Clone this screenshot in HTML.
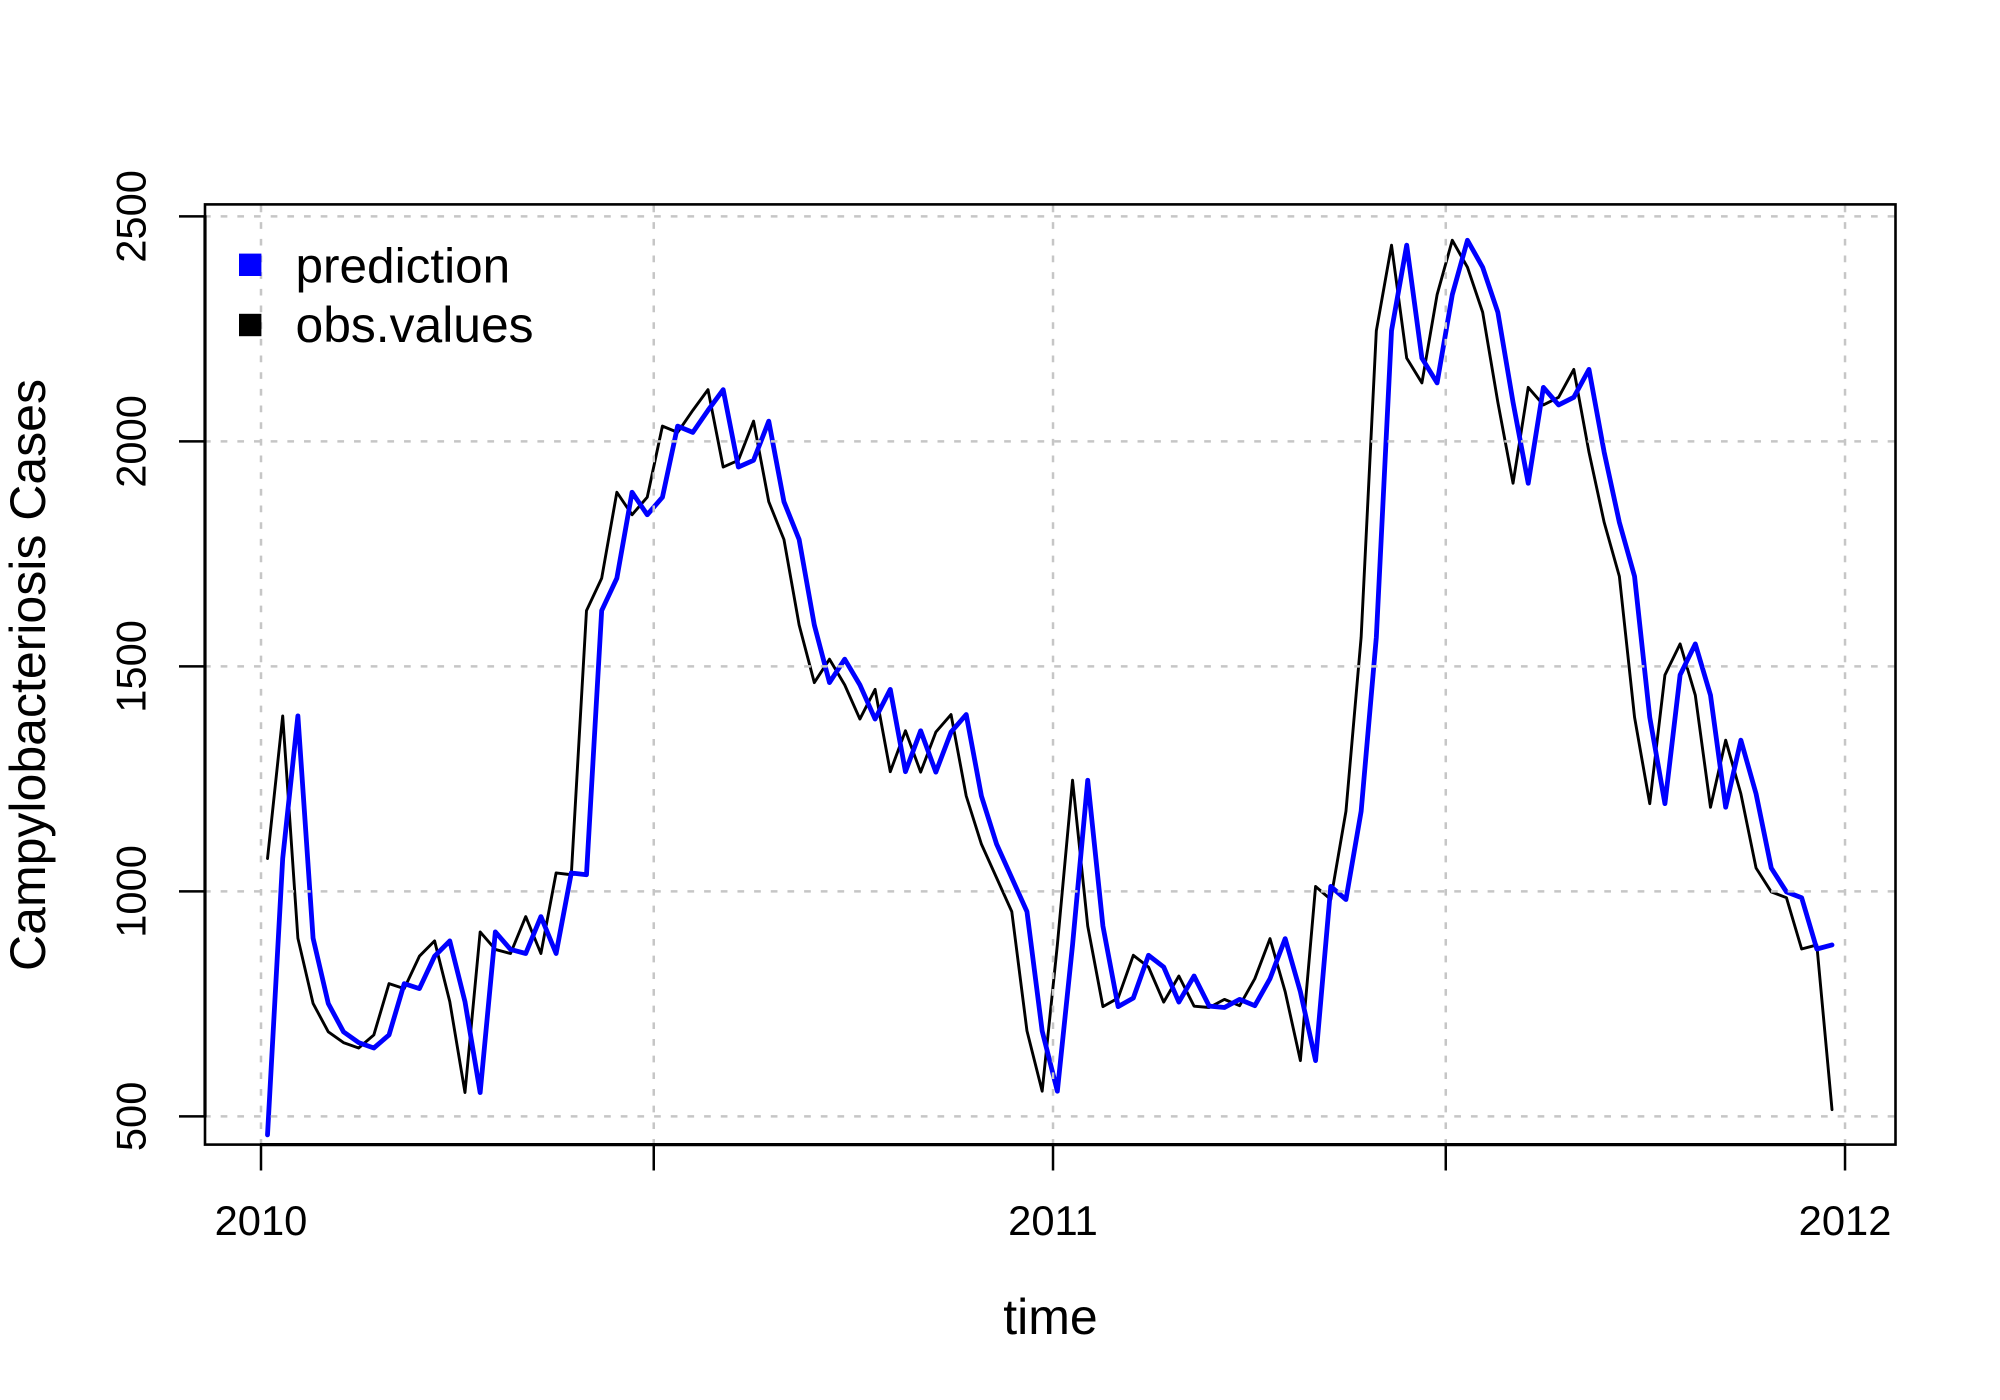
<!DOCTYPE html>
<html lang="en">
<head>
<meta charset="utf-8">
<title>Campylobacteriosis Cases: prediction vs observed values</title>
<style>
html,body{margin:0;padding:0;background:#fff;}
svg{display:block;font-family:"Liberation Sans",Arial,Helvetica,sans-serif;}
</style>
</head>
<body>
<svg id="chart" xmlns="http://www.w3.org/2000/svg" width="2000" height="1400" viewBox="0 0 2000 1400">
  <rect x="0" y="0" width="2000" height="1400" fill="#ffffff"/>
  <g id="series-layer"></g>
  <g id="grid-layer"></g>
  <rect x="205" y="204.4" width="1690.5" height="940.2" fill="none" stroke="#000" stroke-width="2.6"/>
  <g id="axis-layer"></g>
  <text x="1050.5" y="1334" font-size="50" text-anchor="middle" fill="#000">time</text>
  <text x="45" y="675" font-size="50" text-anchor="middle" fill="#000" transform="rotate(-90 45 675)">Campylobacteriosis Cases</text>
  <g>
    <rect x="239" y="253.6" width="22.4" height="22.4" fill="#0000ff"/>
    <text x="295.5" y="282.5" font-size="49.5" fill="#000">prediction</text>
    <rect x="239" y="313.8" width="22.4" height="22.4" fill="#000000"/>
    <text x="295.5" y="342" font-size="49.8" fill="#000">obs.values</text>
  </g>
</svg>
<script>
var obsValues = [1073,1390,896,751,688,664,652,681,795,784,856,890,755,553,910,871,862,944,862,1041,
1037,1624,1696,1887,1837,1876,2034,2020,2069,2115,1943,1958,2045,1866,1782,1592,1464,1516,1459,1383,
1449,1266,1357,1265,1354,1393,1212,1105,1030,955,690,556,881,1247,923,744,763,858,832,754,
812,745,742,760,746,806,895,777,624,1011,982,1178,1565,2246,2436,2185,2130,2326,2447,2387,
2287,2087,1907,2120,2081,2098,2160,1976,1820,1700,1387,1195,1481,1550,1436,1187,1336,1217,1052,999,
986,872,881,515];
var predictionValues = [459,1073,1390,896,751,688,664,652,681,795,784,856,890,755,553,910,871,862,944,862,
1041,1037,1624,1696,1887,1837,1876,2034,2020,2069,2115,1943,1958,2045,1866,1782,1592,1464,1516,1459,
1383,1449,1266,1357,1265,1354,1393,1212,1105,1030,955,690,556,881,1247,923,744,763,858,832,
754,812,745,742,760,746,806,895,777,624,1011,982,1178,1565,2246,2436,2185,2130,2326,2447,
2387,2287,2087,1907,2120,2081,2098,2160,1976,1820,1700,1387,1195,1481,1550,1436,1187,1336,1217,1052,
999,986,872,881];
var yTickValues = [500,1000,1500,2000,2500];
var yTickLabels = ['500','1000','1500','2000','2500'];
var xTickDays = [0,181,365,546,730];
var xTickLabels = ['2010','','2011','','2012'];
var firstObservationDay = 3;
var daysPerObservation = 7;

var NS = 'http://www.w3.org/2000/svg';
function xScale(day) { return 261 + day * 2.1699; }
function yScale(value) { return 1116.4 - (value - 500) * 0.45; }
function dayOfIndex(i) { return firstObservationDay + i * daysPerObservation; }
function make(tag, parent, attrs) {
  var el = document.createElementNS(NS, tag);
  for (var k in attrs) { el.setAttribute(k, attrs[k]); }
  parent.appendChild(el);
  return el;
}
function seriesPoints(values) {
  var out = [];
  for (var i = 0; i < values.length; i++) {
    out.push(xScale(dayOfIndex(i)).toFixed(2) + ',' + yScale(values[i]).toFixed(2));
  }
  return out.join(' ');
}

var seriesLayer = document.getElementById('series-layer');
var gridLayer = document.getElementById('grid-layer');
var axisLayer = document.getElementById('axis-layer');

var obsLine = make('polyline', seriesLayer, {points: seriesPoints(obsValues), fill: 'none', stroke: '#000000', 'stroke-width': 2.9, 'stroke-linejoin': 'round', 'stroke-linecap': 'round'});



var predLine = make('polyline', seriesLayer, {points: seriesPoints(predictionValues), fill: 'none', stroke: '#0000ff', 'stroke-width': 4.8, 'stroke-linejoin': 'round', 'stroke-linecap': 'round'});



yTickValues.forEach(function (v, i) {
  var y = yScale(v);
  var grid = make('line', gridLayer, {x1: 204, x2: 1895, y1: y, y2: y, stroke: '#c6c6c6', 'stroke-width': 2.5, 'stroke-dasharray': '6.7 9.97'});
  
  
  var tick = make('line', axisLayer, {x1: 179, x2: 205, y1: y, y2: y, stroke: '#000', 'stroke-width': 2.5});
  
  
  var label = make('text', axisLayer, {x: 145.5, y: y, 'font-size': 41.7, 'text-anchor': 'middle', fill: '#000', transform: 'rotate(-90 145.5 ' + y + ')'});
  label.textContent = yTickLabels[i];
  
  
});

xTickDays.forEach(function (d, i) {
  var x = xScale(d);
  var grid = make('line', gridLayer, {x1: x, x2: x, y1: 205.5, y2: 1144, stroke: '#c6c6c6', 'stroke-width': 2.5, 'stroke-dasharray': '6.7 9.97'});
  
  
  var tick = make('line', axisLayer, {x1: x, x2: x, y1: 1144.6, y2: 1170.5, stroke: '#000', 'stroke-width': 2.5});
  
  
  if (xTickLabels[i]) {
    var label = make('text', axisLayer, {x: x, y: 1235, 'font-size': 41.7, 'text-anchor': 'middle', fill: '#000'});
    label.textContent = xTickLabels[i];
    
    
  }
});

var xAxisLine = make('line', axisLayer, {x1: xScale(xTickDays[0]) - 1, x2: xScale(xTickDays[xTickDays.length - 1]) + 1, y1: 1144.6, y2: 1144.6, stroke: '#000', 'stroke-width': 3.2});



var yAxisLine = make('line', axisLayer, {x1: 205, x2: 205, y1: yScale(yTickValues[0]) + 1, y2: yScale(yTickValues[yTickValues.length - 1]) - 1, stroke: '#000', 'stroke-width': 3.2});


</script>
</body>
</html>
